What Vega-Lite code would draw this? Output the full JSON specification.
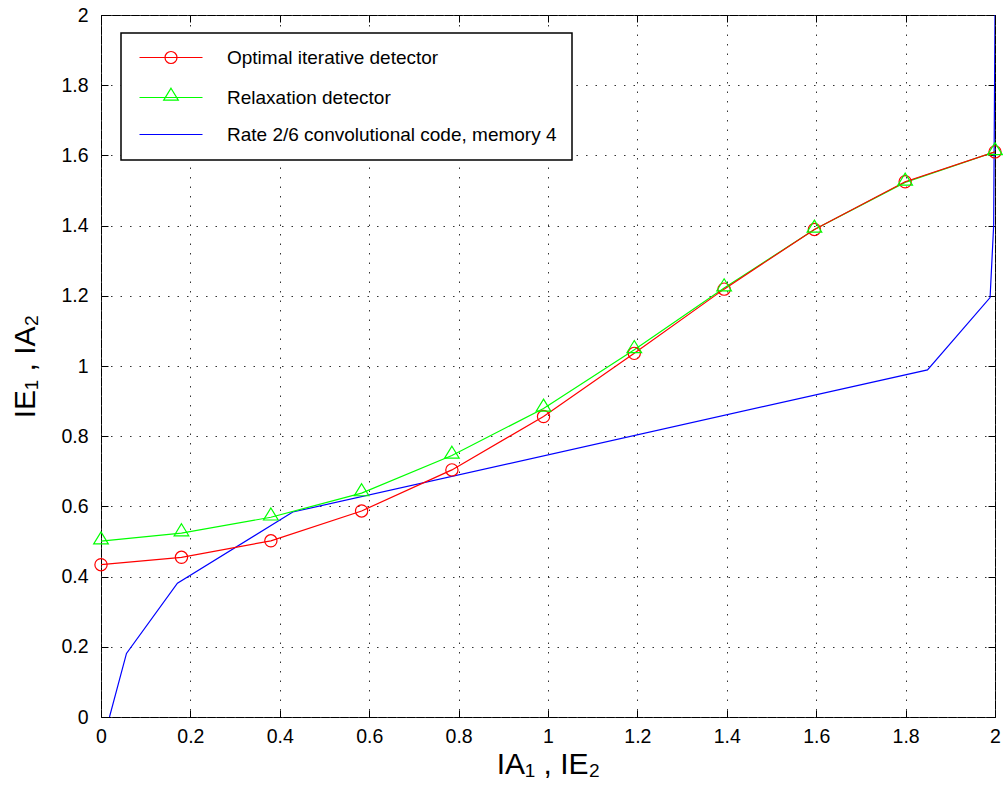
{
  "$schema": "https://vega.github.io/schema/vega-lite/v6.json",
  "width": 894,
  "height": 702,
  "autosize": "none",
  "padding": {"left": 101, "top": 15, "right": 8, "bottom": 72},
  "background": "white",
  "config": {
    "font": "Liberation Sans",
    "view": {"stroke": "black", "strokeWidth": 1},
    "axis": {
      "labelFont": "Liberation Sans", "labelFontSize": 19.5, "labelColor": "black",
      "titleFont": "Liberation Sans", "titleFontSize": 30, "titleFontWeight": "normal", "titleColor": "black",
      "domain": false, "tickColor": "black", "tickSize": -7, "tickWidth": 1,
      "labelOverlap": false, "labelFlush": false, "labelBound": false,
      "gridColor": "#333", "gridDash": [1.5, 8], "gridWidth": 1
    },
    "legend": {
      "orient": "none", "legendX": 20, "legendY": 18,
      "padding": 15, "strokeColor": "black", "strokeWidth": 1.5, "fillColor": "white",
      "labelFont": "Liberation Sans", "labelFontSize": 19, "labelColor": "black", "labelLimit": 2000,
      "symbolSize": 144, "symbolStrokeWidth": 1.2, "labelOffset": 72, "rowPadding": 17,
      "titleOrient": "right", "titleFontSize": 19, "titlePadding": 0, "titleLimit": 2000, "titleFont": "Liberation Sans"
    }
  },
  "datasets": {
    "curves": [
      {"series": "Optimal iterative detector", "x": 0.0, "y": 0.434},
      {"series": "Optimal iterative detector", "x": 0.18, "y": 0.455},
      {"series": "Optimal iterative detector", "x": 0.38, "y": 0.502},
      {"series": "Optimal iterative detector", "x": 0.583, "y": 0.587},
      {"series": "Optimal iterative detector", "x": 0.785, "y": 0.704},
      {"series": "Optimal iterative detector", "x": 0.99, "y": 0.856},
      {"series": "Optimal iterative detector", "x": 1.193, "y": 1.036},
      {"series": "Optimal iterative detector", "x": 1.394, "y": 1.219},
      {"series": "Optimal iterative detector", "x": 1.596, "y": 1.389},
      {"series": "Optimal iterative detector", "x": 1.799, "y": 1.525},
      {"series": "Optimal iterative detector", "x": 2.0, "y": 1.61},
      {"series": "Relaxation detector", "x": 0.0, "y": 0.501},
      {"series": "Relaxation detector", "x": 0.18, "y": 0.524},
      {"series": "Relaxation detector", "x": 0.38, "y": 0.569},
      {"series": "Relaxation detector", "x": 0.583, "y": 0.638},
      {"series": "Relaxation detector", "x": 0.785, "y": 0.745},
      {"series": "Relaxation detector", "x": 0.99, "y": 0.879},
      {"series": "Relaxation detector", "x": 1.193, "y": 1.046},
      {"series": "Relaxation detector", "x": 1.394, "y": 1.222},
      {"series": "Relaxation detector", "x": 1.596, "y": 1.389},
      {"series": "Relaxation detector", "x": 1.799, "y": 1.523},
      {"series": "Relaxation detector", "x": 2.0, "y": 1.61},
      {"series": "Rate 2/6 convolutional code, memory 4", "x": 0.019, "y": 0.0},
      {"series": "Rate 2/6 convolutional code, memory 4", "x": 0.057, "y": 0.181},
      {"series": "Rate 2/6 convolutional code, memory 4", "x": 0.171, "y": 0.381},
      {"series": "Rate 2/6 convolutional code, memory 4", "x": 0.429, "y": 0.584},
      {"series": "Rate 2/6 convolutional code, memory 4", "x": 1.849, "y": 0.989},
      {"series": "Rate 2/6 convolutional code, memory 4", "x": 1.989, "y": 1.195},
      {"series": "Rate 2/6 convolutional code, memory 4", "x": 1.997, "y": 1.4},
      {"series": "Rate 2/6 convolutional code, memory 4", "x": 2.0, "y": 2.0}
    ]
  },
  "data": {"name": "curves"},
  "layer": [
    {
      "transform": [{"filter": "datum.series === 'Rate 2/6 convolutional code, memory 4'"}],
      "mark": {"type": "line", "color": "#0000ff", "strokeWidth": 1.2, "clip": true},
      "encoding": {
        "x": {"field": "x", "type": "quantitative", "scale": {"domain": [0, 2], "nice": false, "zero": false},
          "axis": {"orient": "bottom", "values": [0, 0.2, 0.4, 0.6, 0.8, 1, 1.2, 1.4, 1.6, 1.8, 2], "format": "~g", "grid": true, "labelPadding": 17, "title": "IA₁ , IE₂", "titlePadding": 4}},
        "y": {"field": "y", "type": "quantitative", "scale": {"domain": [0, 2], "nice": false, "zero": false},
          "axis": {"orient": "left", "values": [0, 0.2, 0.4, 0.6, 0.8, 1, 1.2, 1.4, 1.6, 1.8, 2], "format": "~g", "grid": true, "labelPadding": 20, "title": "IE₁ , IA₂", "titlePadding": 20}}
      }
    },
    {
      "transform": [{"filter": "datum.series === 'Relaxation detector'"}],
      "mark": {"type": "line", "color": "#00ff00", "strokeWidth": 1.2, "clip": true},
      "encoding": {
        "x": {"field": "x", "type": "quantitative", "axis": null},
        "y": {"field": "y", "type": "quantitative", "axis": null}
      }
    },
    {
      "transform": [{"filter": "datum.series === 'Optimal iterative detector'"}],
      "mark": {"type": "line", "color": "#ff0000", "strokeWidth": 1.2, "clip": true},
      "encoding": {
        "x": {"field": "x", "type": "quantitative", "axis": null},
        "y": {"field": "y", "type": "quantitative", "axis": null}
      }
    },
    {
      "transform": [{"filter": "datum.series === 'Optimal iterative detector'"}],
      "mark": {"type": "point", "shape": "circle", "filled": false, "color": "#ff0000", "size": 150, "strokeWidth": 1.2, "opacity": 1},
      "encoding": {
        "x": {"field": "x", "type": "quantitative", "axis": null},
        "y": {"field": "y", "type": "quantitative", "axis": null}
      }
    },
    {
      "transform": [{"filter": "datum.series === 'Relaxation detector'"}],
      "mark": {"type": "point", "shape": "M0,-1.55L1.22,0.45L-1.22,0.45Z", "filled": false, "color": "#00ff00", "size": 144, "strokeWidth": 1.2, "opacity": 1},
      "encoding": {
        "x": {"field": "x", "type": "quantitative", "axis": null},
        "y": {"field": "y", "type": "quantitative", "axis": null}
      }
    },
    {
      "mark": {"type": "point", "filled": false, "opacity": 0},
      "encoding": {
        "x": {"field": "x", "type": "quantitative",
          "axis": {"orient": "top", "values": [0, 0.2, 0.4, 0.6, 0.8, 1, 1.2, 1.4, 1.6, 1.8, 2], "labels": false, "grid": false, "title": null}},
        "y": {"field": "y", "type": "quantitative",
          "axis": {"orient": "right", "values": [0, 0.2, 0.4, 0.6, 0.8, 1, 1.2, 1.4, 1.6, 1.8, 2], "labels": false, "grid": false, "title": null}},
        "color": {"field": "series", "type": "nominal",
          "scale": {"domain": ["Optimal iterative detector", "Relaxation detector", "Rate 2/6 convolutional code, memory 4"], "range": ["#ff0000", "#00ff00", "#0000ff"]},
          "legend": {"title": "\u00a0\u00a0\u00a0\u00a0\u00a0\u00a0\u00a0\u00a0\u00a0\u00a0\u00a0\u00a0\u00a0\u00a0\u00a0\u00a0\u00a0\u00a0\u00a0\u00a0\u00a0\u00a0\u00a0\u00a0\u00a0\u00a0\u00a0\u00a0\u00a0\u00a0", "symbolOpacity": 1,
            "encode": {"symbols": {"update": {"opacity": {"value": 1}, "strokeOpacity": {"value": 1}, "fill": {"value": "transparent"}}}}}},
        "shape": {"field": "series", "type": "nominal",
          "scale": {"domain": ["Optimal iterative detector", "Relaxation detector", "Rate 2/6 convolutional code, memory 4"],
            "range": ["M-1,0H9.5M3.25,0A1,1,0,1,0,5.25,0A1,1,0,1,0,3.25,0", "M-1,0H9.5M4.25,-1.55L5.47,0.45L3.03,0.45Z", "M-1,0H9.5"]},
          "legend": {"title": "\u00a0\u00a0\u00a0\u00a0\u00a0\u00a0\u00a0\u00a0\u00a0\u00a0\u00a0\u00a0\u00a0\u00a0\u00a0\u00a0\u00a0\u00a0\u00a0\u00a0\u00a0\u00a0\u00a0\u00a0\u00a0\u00a0\u00a0\u00a0\u00a0\u00a0", "symbolOpacity": 1,
            "encode": {"symbols": {"update": {"opacity": {"value": 1}, "strokeOpacity": {"value": 1}, "fill": {"value": "transparent"}}}}}}
      }
    }
  ],
  "resolve": {"axis": {"x": "independent", "y": "independent"}}
}
